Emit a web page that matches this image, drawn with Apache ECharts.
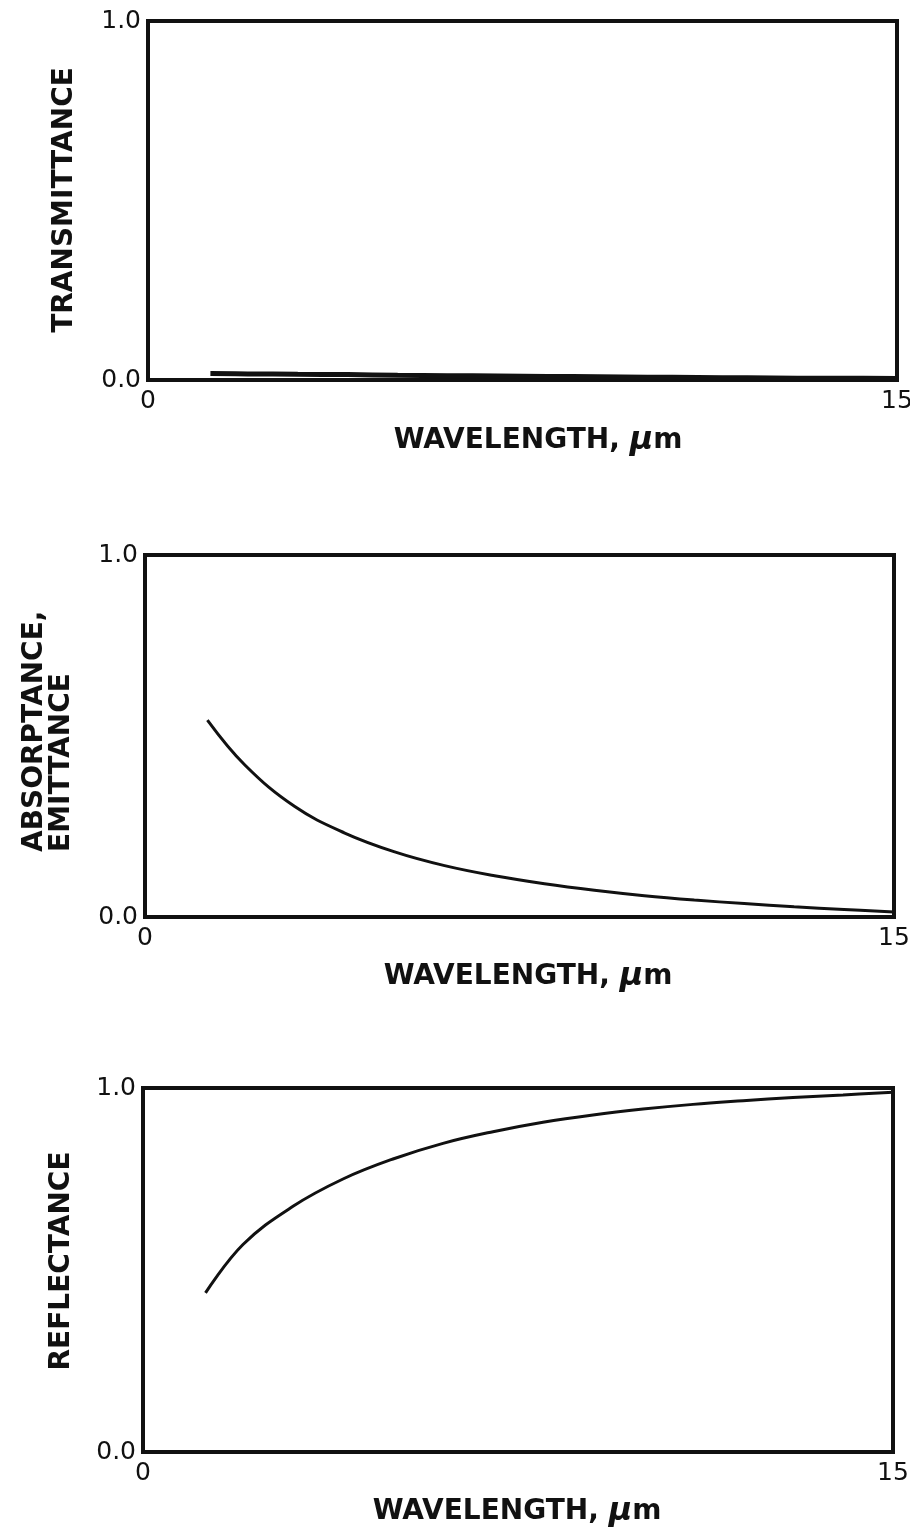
<!DOCTYPE html>
<html>
<head>
<meta charset="utf-8">
<title>Spectral properties vs wavelength</title>
<script src="https://cdn.jsdelivr.net/npm/echarts@6/dist/echarts.min.js"></script>
<style>
  html, body { margin: 0; padding: 0; background: #fff; }
  #chart { width: 910px; height: 1538px; }
</style>
</head>
<body>
<div id="chart"></div>
<script>
// Wavelength samples (µm) shared by all three panels
const wavelength = [1.25, 2, 3, 4, 5, 6, 7, 8, 9, 10, 11, 12, 13, 14, 15];

// Transmittance: almost opaque over the whole range
const transmittance = [0.018, 0.017, 0.016, 0.015, 0.013, 0.012, 0.011, 0.010, 0.009, 0.008, 0.007, 0.006, 0.005, 0.005, 0.004];

// Absorptance / emittance
const absorptance = [0.544, 0.42, 0.305, 0.232, 0.18, 0.142, 0.114, 0.092, 0.074, 0.059, 0.047, 0.037, 0.028, 0.021, 0.014];

// Reflectance
const reflectance = [0.437, 0.57, 0.675, 0.75, 0.805, 0.848, 0.88, 0.906, 0.926, 0.942, 0.955, 0.965, 0.974, 0.981, 0.988];

// Axis extents
const xRange = [0, 15];
const yRange = [0, 1];

const INK = '#111';
const pair = (ys) => wavelength.map((x, i) => [x, ys[i]]);

const grids = [
  { left: 148, top: 21, width: 749, height: 359 },
  { left: 145, top: 555, width: 749, height: 362 },
  { left: 143, top: 1088, width: 750, height: 364 }
];

function xAxisFor(i) {
  return {
    gridIndex: i, type: 'value', min: xRange[0], max: xRange[1], interval: xRange[1] - xRange[0],
    axisLine: { show: false }, axisTick: { show: false }, splitLine: { show: false },
    axisLabel: { color: INK, fontFamily: 'DejaVu Sans', fontSize: 25, margin: 9 }
  };
}
function yAxisFor(i) {
  return {
    gridIndex: i, type: 'value', min: yRange[0], max: yRange[1], interval: yRange[1] - yRange[0],
    axisLine: { show: false }, axisTick: { show: false }, splitLine: { show: false },
    axisLabel: { color: INK, fontFamily: 'DejaVu Sans', fontSize: 25, margin: 7,
                 formatter: (v) => v.toFixed(1) }
  };
}
function curve(i, data, width) {
  return {
    type: 'line', xAxisIndex: i, yAxisIndex: i, data: pair(data),
    smooth: 0.4,
    showSymbol: false, lineStyle: { color: INK, width: width }, silent: true
  };
}

const nameFont = 'bold 28px "DejaVu Sans"';
const xNameRich = {
  a: { font: nameFont, fill: INK },
  u: { font: 'italic bold 32px "DejaVu Sans"', fill: INK }
};
function xName(cx, cy) {
  return {
    type: 'text', x: cx, y: cy,
    style: { text: '{a|WAVELENGTH, }{u|µ}{a|m}', rich: xNameRich, align: 'center', verticalAlign: 'middle' }
  };
}
function yName(text, x, y, align) {
  return {
    type: 'text', x: x, y: y, rotation: Math.PI / 2,
    style: { text: text, font: nameFont, fill: INK, align: align, verticalAlign: 'middle', lineHeight: 27 }
  };
}

const chart = echarts.init(document.getElementById('chart'), null, { renderer: 'canvas' });
chart.setOption({
  animation: false,
  backgroundColor: '#fff',
  grid: grids.map(g => Object.assign({
    show: true, borderColor: INK, borderWidth: 4, backgroundColor: 'transparent',
    containLabel: false, outerBoundsMode: 'none'
  }, g)),
  xAxis: [0, 1, 2].map(xAxisFor),
  yAxis: [0, 1, 2].map(yAxisFor),
  series: [
    curve(0, transmittance, 5),
    curve(1, absorptance, 3),
    curve(2, reflectance, 3)
  ],
  graphic: [
    yName('TRANSMITTANCE', 65, 200, 'center'),
    yName('ABSORPTANCE,\nEMITTANCE', 48, 852, 'left'),
    yName('REFLECTANCE', 62, 1261, 'center'),
    xName(538, 441),
    xName(528, 977),
    xName(517, 1512)
  ]
});
</script>
</body>
</html>
